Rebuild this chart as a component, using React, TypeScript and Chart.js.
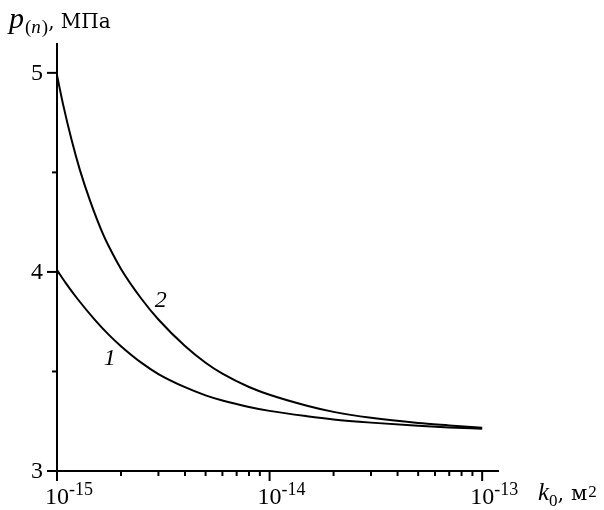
import React, { useEffect, useRef } from "react";
import { Chart, registerables } from "chart.js";

Chart.register(...registerables);

// Permeability k0 (multiples of 1e-15 m^2)
const kMultipliers1 = [1, 1.1, 1.25, 1.5, 1.75, 2, 2.5, 3, 4, 5, 6, 8, 10, 15, 20, 30, 50, 70, 100];
// Curve 1 pressures, MPa
const curve1 = [4.009, 3.944, 3.864, 3.762, 3.685, 3.627, 3.543, 3.487, 3.421, 3.38, 3.354, 3.322, 3.302, 3.275, 3.259, 3.243, 3.227, 3.219, 3.212];
const kMultipliers2 = [1, 1.07, 1.17, 1.28, 1.43, 1.65, 1.75, 2, 2.5, 3, 4, 5, 6, 8, 10, 15, 20, 30, 50, 70, 100];
// Curve 2 pressures, MPa
const curve2 = [4.988, 4.838, 4.665, 4.514, 4.358, 4.187, 4.13, 4.015, 3.864, 3.761, 3.628, 3.544, 3.489, 3.422, 3.383, 3.328, 3.297, 3.267, 3.241, 3.229, 3.217];

const xMajorTicks = [1e-15, 1e-14, 1e-13];
const xMajorExponents = ["-15", "-14", "-13"];
const yTicks = [3, 3.5, 4, 4.5, 5];
const yMajorLabels = ["3", "", "4", "", "5"];
const X_MIN = 1e-15;
const X_MAX = 1.2e-13;
const Y_MIN = 3;
const Y_MAX = 5.15;

const curveLabels = ["1", "2"];
const curveLabelX = [1.77e-15, 3.08e-15];
const curveLabelY = [3.566, 3.858];

const SERIF = '"Liberation Serif", "DejaVu Serif", serif';
const WIDE = '"DejaVu Serif", "Liberation Serif", serif';

const axesPlugin = {
  id: "customAxes",
  afterDraw(chart: any) {
    const ctx = chart.ctx as CanvasRenderingContext2D;
    const xs = chart.scales.x;
    const ys = chart.scales.y;
    const area = chart.chartArea;
    const x0 = xs.getPixelForValue(X_MIN);
    const yb = ys.getPixelForValue(Y_MIN);
    ctx.save();
    ctx.strokeStyle = "#000";
    ctx.fillStyle = "#000";
    ctx.lineWidth = 2;
    ctx.lineCap = "butt";
    ctx.beginPath();
    ctx.moveTo(x0, area.top);
    ctx.lineTo(x0, yb);
    ctx.moveTo(x0, yb);
    ctx.lineTo(area.right, yb);
    ctx.stroke();

    // y ticks
    yTicks.forEach((v, i) => {
      const py = ys.getPixelForValue(v);
      const len = yMajorLabels[i] ? 10 : 5;
      ctx.beginPath();
      ctx.moveTo(x0 - len, py);
      ctx.lineTo(x0, py);
      ctx.stroke();
      if (yMajorLabels[i]) {
        ctx.font = `24px ${SERIF}`;
        ctx.textAlign = "right";
        ctx.textBaseline = "middle";
        ctx.fillText(yMajorLabels[i], x0 - 14, py + 1);
      }
    });

    // x ticks (log)
    for (let e = -15; e <= -14; e++) {
      for (let m = 1; m <= 9; m++) {
        const v = m * Math.pow(10, e);
        if (v < X_MIN || v > X_MAX) continue;
        const px = xs.getPixelForValue(v);
        const len = m === 1 ? 10 : 5;
        ctx.beginPath();
        ctx.moveTo(px, yb);
        ctx.lineTo(px, yb + len);
        ctx.stroke();
      }
    }
    {
      const px = xs.getPixelForValue(1e-13);
      ctx.beginPath();
      ctx.moveTo(px, yb);
      ctx.lineTo(px, yb + 10);
      ctx.stroke();
    }

    // x tick labels
    xMajorTicks.forEach((v, i) => {
      const px = xs.getPixelForValue(v);
      ctx.font = `24px ${SERIF}`;
      ctx.textAlign = "center";
      ctx.textBaseline = "alphabetic";
      ctx.fillText("10", px, yb + 33);
      const w = ctx.measureText("10").width;
      ctx.font = `18px ${SERIF}`;
      ctx.textAlign = "left";
      ctx.fillText(xMajorExponents[i], px + w / 2, yb + 24);
    });

    // x axis title: k0, м2
    {
      let x = 538;
      const base = yb + 29;
      ctx.textAlign = "left";
      ctx.textBaseline = "alphabetic";
      ctx.font = `italic 25px ${SERIF}`;
      ctx.fillText("k", x, base);
      x += ctx.measureText("k").width;
      ctx.font = `17px ${SERIF}`;
      ctx.fillText("0", x, base + 6);
      x += ctx.measureText("0").width;
      ctx.font = `21px ${WIDE}`;
      ctx.fillText(", м", x, base);
      x += ctx.measureText(", м").width + 1;
      ctx.font = `17px ${SERIF}`;
      ctx.fillText("2", x, base - 3);
    }

    // y axis title: p(n), МПа
    {
      let x = 9;
      const base = 28;
      ctx.textAlign = "left";
      ctx.textBaseline = "alphabetic";
      ctx.font = `italic 30px ${SERIF}`;
      ctx.fillText("p", x, base);
      x += ctx.measureText("p").width + 1;
      ctx.font = `19px ${SERIF}`;
      ctx.fillText("(", x, base + 5);
      x += ctx.measureText("(").width;
      ctx.font = `italic 19px ${SERIF}`;
      ctx.fillText("n", x, base + 5);
      x += ctx.measureText("n").width + 1;
      ctx.font = `19px ${SERIF}`;
      ctx.fillText(")", x, base + 5);
      x += ctx.measureText(")").width;
      ctx.font = `20px ${WIDE}`;
      ctx.fillText(", МПа", x, base);
    }

    // curve labels
    ctx.font = `italic 24px ${SERIF}`;
    ctx.textAlign = "center";
    ctx.textBaseline = "middle";
    curveLabels.forEach((t, i) => {
      ctx.fillText(t, xs.getPixelForValue(curveLabelX[i]), ys.getPixelForValue(curveLabelY[i]));
    });
    ctx.restore();
  },
};

export default function App() {
  const ref = useRef<HTMLCanvasElement | null>(null);
  useEffect(() => {
    if (!ref.current) return;
    const toPts = (ks: number[], arr: number[]) => ks.map((m, i) => ({ x: m * 1e-15, y: arr[i] }));
    const chart = new Chart(ref.current, {
      type: "line",
      data: {
        datasets: [
          {
            label: "1",
            data: toPts(kMultipliers1, curve1),
            borderColor: "#000",
            borderWidth: 2,
            pointRadius: 0,
            fill: false,
            cubicInterpolationMode: "monotone",
          },
          {
            label: "2",
            data: toPts(kMultipliers2, curve2),
            borderColor: "#000",
            borderWidth: 2,
            pointRadius: 0,
            fill: false,
            cubicInterpolationMode: "monotone",
          },
        ],
      },
      options: {
        animation: false,
        responsive: false,
        maintainAspectRatio: false,
        layout: { padding: { left: 57, top: 43, right: 105, bottom: 39 } },
        plugins: { legend: { display: false }, tooltip: { enabled: false } },
        scales: {
          x: { type: "logarithmic", min: X_MIN, max: X_MAX, display: false },
          y: { type: "linear", min: Y_MIN, max: Y_MAX, display: false },
        },
      },
      plugins: [axesPlugin],
    } as any);
    return () => chart.destroy();
  }, []);
  return (
    <div style={{ position: "fixed", left: 0, top: 0, width: 604, height: 510, background: "#fff" }}>
      <canvas ref={ref} width={604} height={510} style={{ width: 604, height: 510, display: "block" }} />
    </div>
  );
}
